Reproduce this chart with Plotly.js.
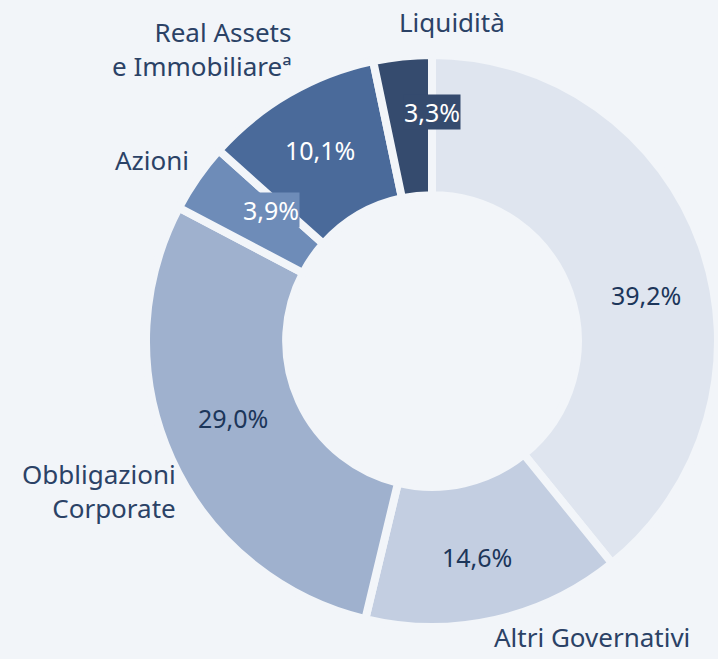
<!DOCTYPE html>
<html>
<head>
<meta charset="utf-8">
<script src="https://cdn.plot.ly/plotly-3.0.1.min.js"></script>
<style>html,body{margin:0;padding:0;background:#f2f5f9;}#chart{width:718px;height:659px;}</style>
</head>
<body>
<div id="chart"></div>
<script>
// Data
const sliceNames = ["Governativi", "Altri Governativi", "Obbligazioni Corporate", "Azioni", "Real Assets e Immobiliare", "Liquidità"];
const values = [39.2, 14.6, 29.0, 3.9, 10.1, 3.3];
const sliceColors = ["#dfe5ef", "#c3cee1", "#9fb1ce", "#6e8cb8", "#4a6a9a", "#354b6e"];
const outerLabels = ["", "Altri Governativi", "Obbligazioni<br>Corporate", "Azioni", "Real Assets<br>e Immobiliareª", "Liquidità"];

const W = 718, H = 659;
const cx = 433, cy = 341, R = 287;

const fmt = v => v.toFixed(1).replace('.', ',') + '%';

const trace = {
  type: 'pie',
  values: values,
  labels: sliceNames,
  sort: false,
  direction: 'clockwise',
  rotation: 0,
  hole: 0.51,
  textinfo: 'none',
  hoverinfo: 'label+percent',
  marker: { colors: sliceColors, line: { color: '#f2f5f9', width: 8 } },
  domain: { x: [(cx - R) / W, (cx + R) / W], y: [(H - cy - R) / H, (H - cy + R) / H] },
  showlegend: false
};

// percent label placement (pixels) and styles
const pctPos = [[646, 295], [477, 557], [233, 418], [271, 210], [320, 150], [432, 112]];
const pctColor = ["#1c365a", "#1c365a", "#1c365a", "#ffffff", "#ffffff", "#ffffff"];
const pctBox = [null, null, null, "#6e8cb8", null, "#354b6e"];

const labelPos = [null, [592, 637, 'center'], [178, 491, 'right'], [191, 160, 'right'], [293, 49, 'right'], [452, 22, 'center']];

const FONT = "Noto Sans, Open Sans, sans-serif";
const annotations = [];
values.forEach((v, i) => {
  const p = pctPos[i];
  const a = {
    xref: 'paper', yref: 'paper', x: p[0] / W, y: 1 - p[1] / H,
    xanchor: 'center', yanchor: 'middle', showarrow: false,
    text: fmt(v), font: { family: FONT, size: 25, color: pctColor[i] }
  };
  if (pctBox[i]) { a.bgcolor = pctBox[i]; a.borderpad = 0; }
  annotations.push(a);
  const l = labelPos[i];
  if (l) {
    annotations.push({
      xref: 'paper', yref: 'paper', x: l[0] / W, y: 1 - l[1] / H,
      xanchor: l[2], yanchor: 'middle', align: l[2], showarrow: false,
      text: outerLabels[i], font: { family: FONT, size: 26, color: '#2b4266' }
    });
  }
});

const layout = {
  width: W, height: H,
  margin: { l: 0, r: 0, t: 0, b: 0 },
  paper_bgcolor: '#f2f5f9',
  plot_bgcolor: '#f2f5f9',
  annotations: annotations
};

Plotly.newPlot('chart', [trace], layout, { displayModeBar: false, staticPlot: true });
</script>
</body>
</html>
